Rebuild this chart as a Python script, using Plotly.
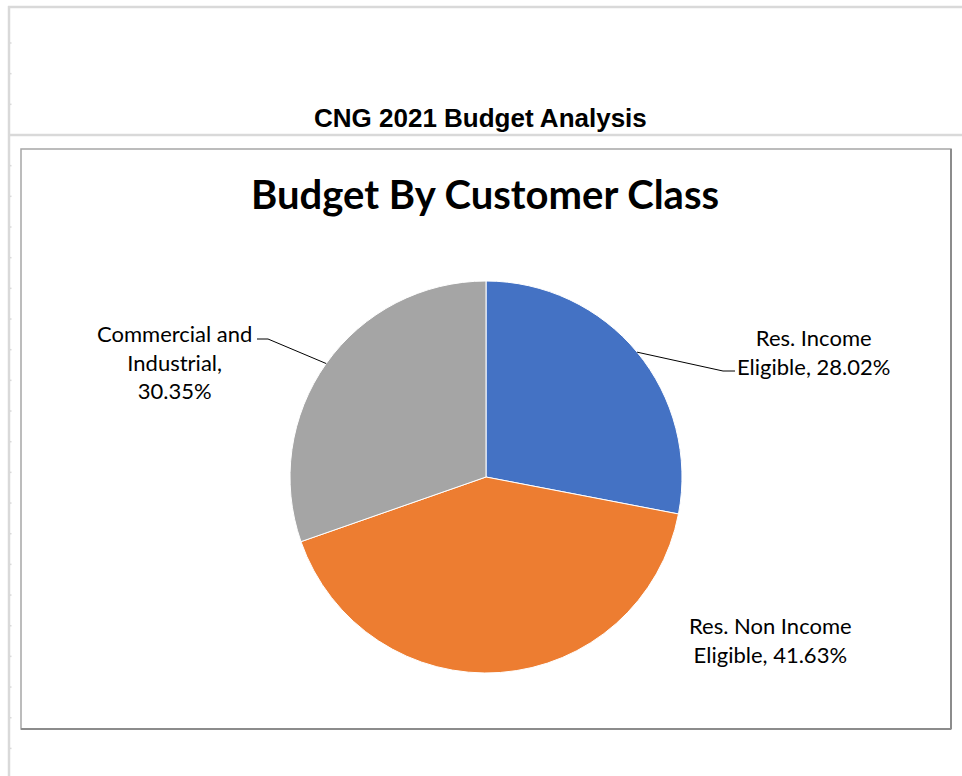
import math
import plotly.graph_objects as go

# ---- data ----
sheet_title = "CNG 2021 Budget Analysis"
chart_title = "Budget By Customer Class"
categories = ["Res. Income Eligible", "Res. Non Income Eligible", "Commercial and Industrial"]
label_lines = [["Res. Income", "Eligible, 28.02%"],
               ["Res. Non Income", "Eligible, 41.63%"],
               ["Commercial and", "Industrial,", "30.35%"]]
shares = [28.02, 41.63, 30.35]
colors = ["#4472C4", "#ED7D31", "#A5A5A5"]

W, H = 962, 776
CX, CY, R = 486, 477, 196


def fx(x):
    return x / W


def fy(y):
    return 1 - y / H


fig = go.Figure()
fig.add_trace(go.Pie(
    labels=categories, values=shares, sort=False, direction="clockwise", rotation=0,
    marker=dict(colors=colors, line=dict(color="white", width=1)),
    textinfo="none", hoverinfo="skip", showlegend=False,
    domain=dict(x=[fx(CX - R), fx(CX + R)], y=[fy(CY + R), fy(CY - R)]),
))

shapes = []
grid = "#d9d9d9"
# spreadsheet gridlines
shapes.append(dict(type="line", xref="paper", yref="paper", x0=fx(8), x1=1, y0=fy(7), y1=fy(7),
                   line=dict(color=grid, width=2.5)))
shapes.append(dict(type="line", xref="paper", yref="paper", x0=fx(9), x1=fx(9), y0=fy(6), y1=0,
                   line=dict(color=grid, width=2.5)))
shapes.append(dict(type="line", xref="paper", yref="paper", x0=fx(9), x1=1, y0=fy(135), y1=fy(135),
                   line=dict(color=grid, width=2.5)))
for k in list(range(-3, 0)) + list(range(1, 21)):
    yy = 135 + 30.67 * k
    shapes.append(dict(type="line", xref="paper", yref="paper", x0=fx(9), x1=fx(11.5), y0=fy(yy), y1=fy(yy),
                       line=dict(color=grid, width=1.5)))
# chart box
shapes.append(dict(type="rect", xref="paper", yref="paper", x0=fx(21), x1=fx(951), y0=fy(729), y1=fy(149),
                   line=dict(color="#a6a6a6", width=1.5), fillcolor="rgba(0,0,0,0)"))
shapes.append(dict(type="line", xref="paper", yref="paper", x0=fx(951), x1=fx(951), y0=fy(729), y1=fy(149),
                   line=dict(color="#8c8c8c", width=2)))
shapes.append(dict(type="line", xref="paper", yref="paper", x0=fx(21), x1=fx(951), y0=fy(729), y1=fy(729),
                   line=dict(color="#8c8c8c", width=2)))

# leader line anchors: label elbow points (pixels); None = no leader
elbows = [[(723, 371), (735, 371)], None, [(268, 339), (257, 339)]]
cum = 0
mids = []
for v in shares:
    mids.append((cum + v / 2) / sum(shares) * 2 * math.pi)
    cum += v
for i, el in enumerate(elbows):
    if el is None:
        continue
    a = mids[i]
    ex, ey = CX + R * math.sin(a), CY - R * math.cos(a)
    pts = [(ex, ey)] + el
    path = "M " + " L ".join(f"{fx(x)},{fy(y)}" for x, y in pts)
    shapes.append(dict(type="path", xref="paper", yref="paper", path=path,
                       line=dict(color="black", width=1)))

label_font = dict(family="Lato", size=22, color="black")
label_pos = [(813, 352), (770, 640), (174, 362)]
annotations = []
for lines, (lx, ly) in zip(label_lines, label_pos):
    annotations.append(dict(text="<br>".join(lines), x=fx(lx), y=fy(ly), xref="paper", yref="paper",
                            xanchor="center", yanchor="middle", showarrow=False, font=label_font,
                            borderpad=0))
annotations.append(dict(text="<b>" + sheet_title + "</b>", x=fx(480), y=fy(118), xref="paper", yref="paper",
                        xanchor="center", yanchor="middle", showarrow=False,
                        font=dict(family="Liberation Sans", size=26, color="black")))
annotations.append(dict(text="<b>" + chart_title + "</b>", x=fx(485), y=fy(194), xref="paper", yref="paper",
                        xanchor="center", yanchor="middle", showarrow=False,
                        font=dict(family="Lato", size=40, color="black")))

fig.update_layout(width=W, height=H, margin=dict(l=0, r=0, t=0, b=0),
                  paper_bgcolor="white", plot_bgcolor="white",
                  shapes=shapes, annotations=annotations)
fig.write_html("out.html", config={"displayModeBar": False},
               post_script="document.body.style.margin='0px';document.body.style.overflow='hidden';")
